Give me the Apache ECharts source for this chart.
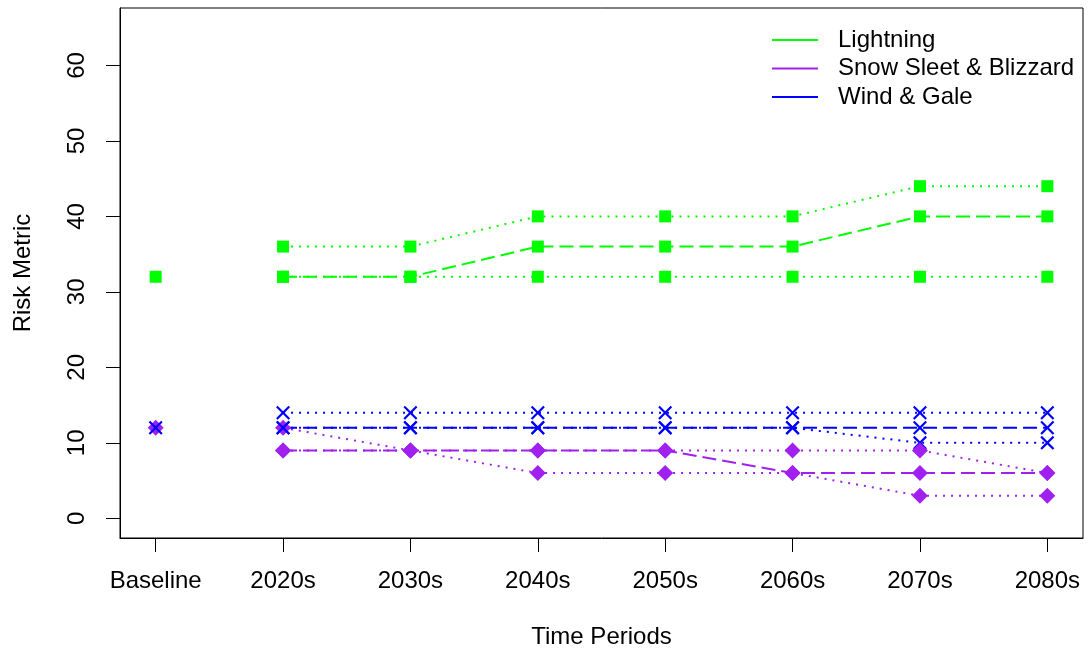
<!DOCTYPE html>
<html>
<head>
<meta charset="utf-8">
<script src="https://cdn.jsdelivr.net/npm/echarts@6/dist/echarts.min.js"></script>
<style>
  html, body { margin: 0; padding: 0; background: #fff; }
  #chart { width: 1091px; height: 651px; }
</style>
</head>
<body>
<div id="chart"></div>
<script>
// ---- Data ----
const categories = ['Baseline', '2020s', '2030s', '2040s', '2050s', '2060s', '2070s', '2080s'];
const hazards = ['Lightning', 'Snow Sleet & Blizzard', 'Wind & Gale'];
const yTicks = [0, 10, 20, 30, 40, 50, 60];

// baseline value per hazard
const lightningBaseline = 32;
const snowBaseline = 12;
const windBaseline = 12;

// future periods 2020s..2080s
const lightningLow  = [32, 32, 32, 32, 32, 32, 32];
const lightningMid  = [32, 32, 36, 36, 36, 40, 40];
const lightningHigh = [36, 36, 40, 40, 40, 44, 44];

const snowLow  = [9, 9, 6, 6, 6, 3, 3];
const snowMid  = [9, 9, 9, 9, 6, 6, 6];
const snowHigh = [12, 9, 9, 9, 9, 9, 6];

const windLow  = [12, 12, 12, 12, 12, 10, 10];
const windMid  = [12, 12, 12, 12, 12, 12, 12];
const windHigh = [14, 14, 14, 14, 14, 14, 14];

// ---- Styles ----
const FONT = "'Liberation Sans', Arial, Helvetica, sans-serif";
const FS = 24;
const colors = { 'Lightning': '#00FF00', 'Snow Sleet & Blizzard': '#A020F0', 'Wind & Gale': '#0000FF' };
const symbols = {
  'Lightning': { symbol: 'rect', size: 12 },
  'Snow Sleet & Blizzard': { symbol: 'diamond', size: 16 },
  'Wind & Gale': { symbol: 'path://M0,11 L11,0 L50,39 L89,0 L100,11 L61,50 L100,89 L89,100 L50,61 L11,100 L0,89 L39,50 Z', size: 14 }
};
const DOTTED = [2, 6];
const LONGDASH = [14, 6];

function futurePairs(vals) {
  return vals.map((v, i) => [i + 2, v]);
}

function lineSeries(name, vals, dash) {
  return {
    name: name,
    type: 'line',
    data: futurePairs(vals),
    symbol: symbols[name].symbol,
    symbolSize: symbols[name].size,
    showSymbol: true,
    showAllSymbol: true,
    itemStyle: { color: colors[name], opacity: 1 },
    lineStyle: { color: colors[name], width: 2, type: dash, cap: 'butt' },
    emphasis: { disabled: true },
    silent: true
  };
}

function baseSeries(name, v) {
  return {
    name: name,
    type: 'scatter',
    data: [[1, v]],
    symbol: symbols[name].symbol,
    symbolSize: symbols[name].size,
    itemStyle: { color: colors[name], opacity: 1 },
    emphasis: { disabled: true },
    silent: true
  };
}

const series = [
  // low scenarios
  lineSeries('Lightning', lightningLow, DOTTED),
  lineSeries('Snow Sleet & Blizzard', snowLow, DOTTED),
  lineSeries('Wind & Gale', windLow, DOTTED),
  // high scenarios
  lineSeries('Lightning', lightningHigh, DOTTED),
  lineSeries('Snow Sleet & Blizzard', snowHigh, DOTTED),
  lineSeries('Wind & Gale', windHigh, DOTTED),
  // mid scenarios
  lineSeries('Lightning', lightningMid, LONGDASH),
  lineSeries('Snow Sleet & Blizzard', snowMid, LONGDASH),
  lineSeries('Wind & Gale', windMid, LONGDASH),
  // baseline points
  baseSeries('Lightning', lightningBaseline),
  baseSeries('Snow Sleet & Blizzard', snowBaseline),
  baseSeries('Wind & Gale', windBaseline)
];

const chart = echarts.init(document.getElementById('chart'), null, { renderer: 'canvas' });
chart.setOption({
  animation: false,
  backgroundColor: '#ffffff',
  textStyle: { fontFamily: FONT, color: '#000' },
  grid: {
    left: 120, right: 8, top: 8, bottom: 113,
    containLabel: false,
    outerBoundsMode: 'none',
    show: true, borderColor: '#000', borderWidth: 1, backgroundColor: 'transparent'
  },
  legend: {
    data: hazards.map(h => ({ name: h, icon: 'rect', itemStyle: { color: colors[h] } })),
    orient: 'vertical',
    left: 767, top: 23,
    itemWidth: 46, itemHeight: 2, itemGap: 4.5,
    selectedMode: false,
    textStyle: { fontFamily: FONT, fontSize: FS, color: '#000', lineHeight: 24, padding: [0, 0, 0, 15] }
  },
  xAxis: {
    type: 'value',
    min: 0.72, max: 8.28,
    name: 'Time Periods',
    nameLocation: 'middle',
    nameGap: 87,
    nameTextStyle: { fontFamily: FONT, fontSize: FS, color: '#000' },
    axisLine: { show: true, onZero: false, lineStyle: { color: '#000', width: 1 } },
    axisTick: { show: true, length: 14, customValues: [1, 2, 3, 4, 5, 6, 7, 8], lineStyle: { color: '#000', width: 1 } },
    axisLabel: {
      customValues: [1, 2, 3, 4, 5, 6, 7, 8],
      formatter: v => categories[Math.round(v) - 1],
      fontFamily: FONT, fontSize: FS, color: '#000', margin: 31
    },
    splitLine: { show: false }
  },
  yAxis: {
    type: 'value',
    min: -2.6, max: 67.6,
    name: 'Risk Metric',
    nameLocation: 'middle',
    nameGap: 85,
    nameTextStyle: { fontFamily: FONT, fontSize: FS, color: '#000' },
    axisLine: { show: true, onZero: false, lineStyle: { color: '#000', width: 1 } },
    axisTick: { show: true, length: 14, customValues: yTicks, lineStyle: { color: '#000', width: 1 } },
    axisLabel: {
      customValues: yTicks,
      rotate: 90,
      fontFamily: FONT, fontSize: FS, color: '#000', margin: 31
    },
    splitLine: { show: false }
  },
  series: series
});
</script>
</body>
</html>
